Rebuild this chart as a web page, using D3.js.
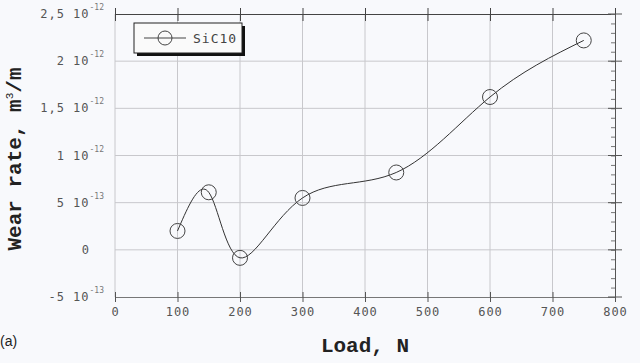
<!DOCTYPE html>
<html>
<head>
<meta charset="utf-8">
<script src="https://cdn.jsdelivr.net/npm/d3@7"></script>
<style>
  body { margin: 0; background: #f8f9fc; }
  svg { display: block; }
</style>
</head>
<body>
<div id="chart"></div>
<script>
const loads = [100, 150, 200, 300, 450, 600, 750];
const wearRate = [2.0e-13, 6.1e-13, -0.85e-13, 5.5e-13, 8.2e-13, 1.62e-12, 2.22e-12];
const xTicks = [0, 100, 200, 300, 400, 500, 600, 700, 800];
const yTicks = [-5e-13, 0, 5e-13, 1e-12, 1.5e-12, 2e-12, 2.5e-12];
const yTickMant = ["-5", "0", "5", "1", "1,5", "2", "2,5"];
const yTickExp = ["-13", "", "-13", "-12", "-12", "-12", "-12"];
const seriesName = "SiC10";

const w = 640, h = 363;
const pLeft = 115, pRight = 615, pTop = 14, pBottom = 297;

const svg = d3.select("#chart").append("svg")
  .attr("width", w).attr("height", h);

svg.append("rect").attr("width", w).attr("height", h).attr("fill", "#f8f9fc");

const xScale = d3.scaleLinear().domain([0, 800]).range([pLeft, pRight]);
const yScale = d3.scaleLinear().domain([-5e-13, 2.5e-12]).range([pBottom, pTop]);

// grid
svg.append("g").selectAll("line")
  .data(xTicks.slice(1, -1))
  .enter().append("line")
  .attr("x1", d => xScale(d)).attr("x2", d => xScale(d))
  .attr("y1", pTop).attr("y2", pBottom)
  .attr("stroke", "#c8c8cc").attr("stroke-width", 1);
svg.append("g").selectAll("line")
  .data(yTicks.slice(1, -1))
  .enter().append("line")
  .attr("x1", pLeft).attr("x2", pRight)
  .attr("y1", d => yScale(d)).attr("y2", d => yScale(d))
  .attr("stroke", "#c8c8cc").attr("stroke-width", 1);
svg.append("line").attr("x1", pLeft).attr("x2", pLeft).attr("y1", pTop).attr("y2", pBottom)
  .attr("stroke", "#c8c8cc");

// bottom axis
const xAxis = d3.axisBottom(xScale).tickValues(xTicks).tickSize(5).tickSizeOuter(0).tickPadding(5);
const gx = svg.append("g").attr("transform", `translate(0,${pBottom})`).call(xAxis);
gx.select(".domain").attr("stroke", "#777");
gx.selectAll(".tick line").attr("stroke", "#555").attr("y1", -5);
gx.selectAll("text")
  .attr("fill", "#555")
  .style("font-family", "'DejaVu Sans Mono', monospace")
  .style("font-size", "12px")
  .style("letter-spacing", "1px");

// top axis (ticks only)
const gt = svg.append("g").attr("transform", `translate(0,${pTop})`)
  .call(d3.axisTop(xScale).tickValues(xTicks).tickSize(6).tickSizeOuter(0).tickFormat(""));
gt.select(".domain").attr("stroke", "#444");
gt.selectAll(".tick line").attr("stroke", "#444").attr("y1", 7);

// right axis with minor ticks
const minor = d3.range(-5, 26).map(d => d * 1e-13);
const gr = svg.append("g").attr("transform", `translate(${pRight},0)`)
  .call(d3.axisRight(yScale).tickValues(minor).tickSize(-4).tickSizeOuter(0).tickFormat(""));
gr.select(".domain").attr("stroke", "#555");
gr.selectAll(".tick line").attr("stroke", "#777");
gr.append("g").selectAll("line")
  .data(yTicks)
  .enter().append("line")
  .attr("x1", -7).attr("x2", 7)
  .attr("y1", d => yScale(d)).attr("y2", d => yScale(d))
  .attr("stroke", "#555");

// y tick labels
const yl = svg.append("g")
  .style("font-family", "'DejaVu Sans Mono', monospace")
  .attr("fill", "#555");
yTicks.forEach((v, i) => {
  const t = yl.append("text")
    .attr("x", 104)
    .attr("y", yScale(v) + 4)
    .attr("text-anchor", "end")
    .style("font-size", "12px")
    .style("letter-spacing", "1px");
  if (yTickExp[i] === "") {
    t.attr("x", 90).text(yTickMant[i]);
  } else {
    t.append("tspan").text(yTickMant[i] + " 10");
    t.append("tspan").attr("dy", -8).style("font-size", "8px").style("letter-spacing", "0px")
      .attr("fill", "#777").text(yTickExp[i]);
  }
});

// curve
const line = d3.line()
  .x((d, i) => xScale(loads[i]))
  .y(d => yScale(d))
  .curve(d3.curveNatural);
svg.append("path").datum(wearRate)
  .attr("d", line)
  .attr("fill", "none")
  .attr("stroke", "#333")
  .attr("stroke-width", 1);

svg.append("g").selectAll("circle")
  .data(wearRate)
  .enter().append("circle")
  .attr("cx", (d, i) => xScale(loads[i]))
  .attr("cy", d => yScale(d))
  .attr("r", 7.5)
  .attr("fill", "none")
  .attr("stroke", "#444")
  .attr("stroke-width", 1);

// legend
const lg = svg.append("g").attr("transform", "translate(134,23)");
lg.append("rect").attr("x", 3).attr("y", 3).attr("width", 108).attr("height", 30).attr("fill", "#111");
lg.append("rect").attr("width", 108).attr("height", 30).attr("fill", "#fafafa")
  .attr("stroke", "#222").attr("stroke-width", 1);
lg.append("line").attr("x1", 10).attr("x2", 52).attr("y1", 15).attr("y2", 15).attr("stroke", "#444");
lg.append("circle").attr("cx", 31).attr("cy", 15).attr("r", 7).attr("fill", "none").attr("stroke", "#444");
lg.append("text").attr("x", 59).attr("y", 20)
  .style("font-family", "'DejaVu Sans Mono', monospace")
  .style("font-size", "13px").style("letter-spacing", "1px")
  .attr("fill", "#444").text(seriesName);

// axis titles
svg.append("text")
  .attr("x", (pLeft + pRight) / 2).attr("y", 352)
  .attr("text-anchor", "middle")
  .style("font-family", "'Liberation Mono', monospace")
  .style("font-weight", "bold").style("font-size", "21px")
  .attr("fill", "#222")
  .text("Load, N");

const yt = svg.append("text")
  .attr("transform", "translate(21,159) rotate(-90)")
  .attr("text-anchor", "middle")
  .style("font-family", "'Liberation Mono', monospace")
  .style("font-weight", "bold").style("font-size", "21px")
  .attr("fill", "#222");
yt.append("tspan").text("Wear rate, m");
yt.append("tspan").attr("dy", -8).style("font-size", "11px").style("font-weight", "normal").text("3");
yt.append("tspan").attr("dy", 8).text("/m");

svg.append("text").attr("x", 0).attr("y", 346)
  .style("font-family", "'Liberation Sans', Arial, sans-serif")
  .style("font-size", "14px").attr("fill", "#222").text("(a)");
</script>
</body>
</html>
